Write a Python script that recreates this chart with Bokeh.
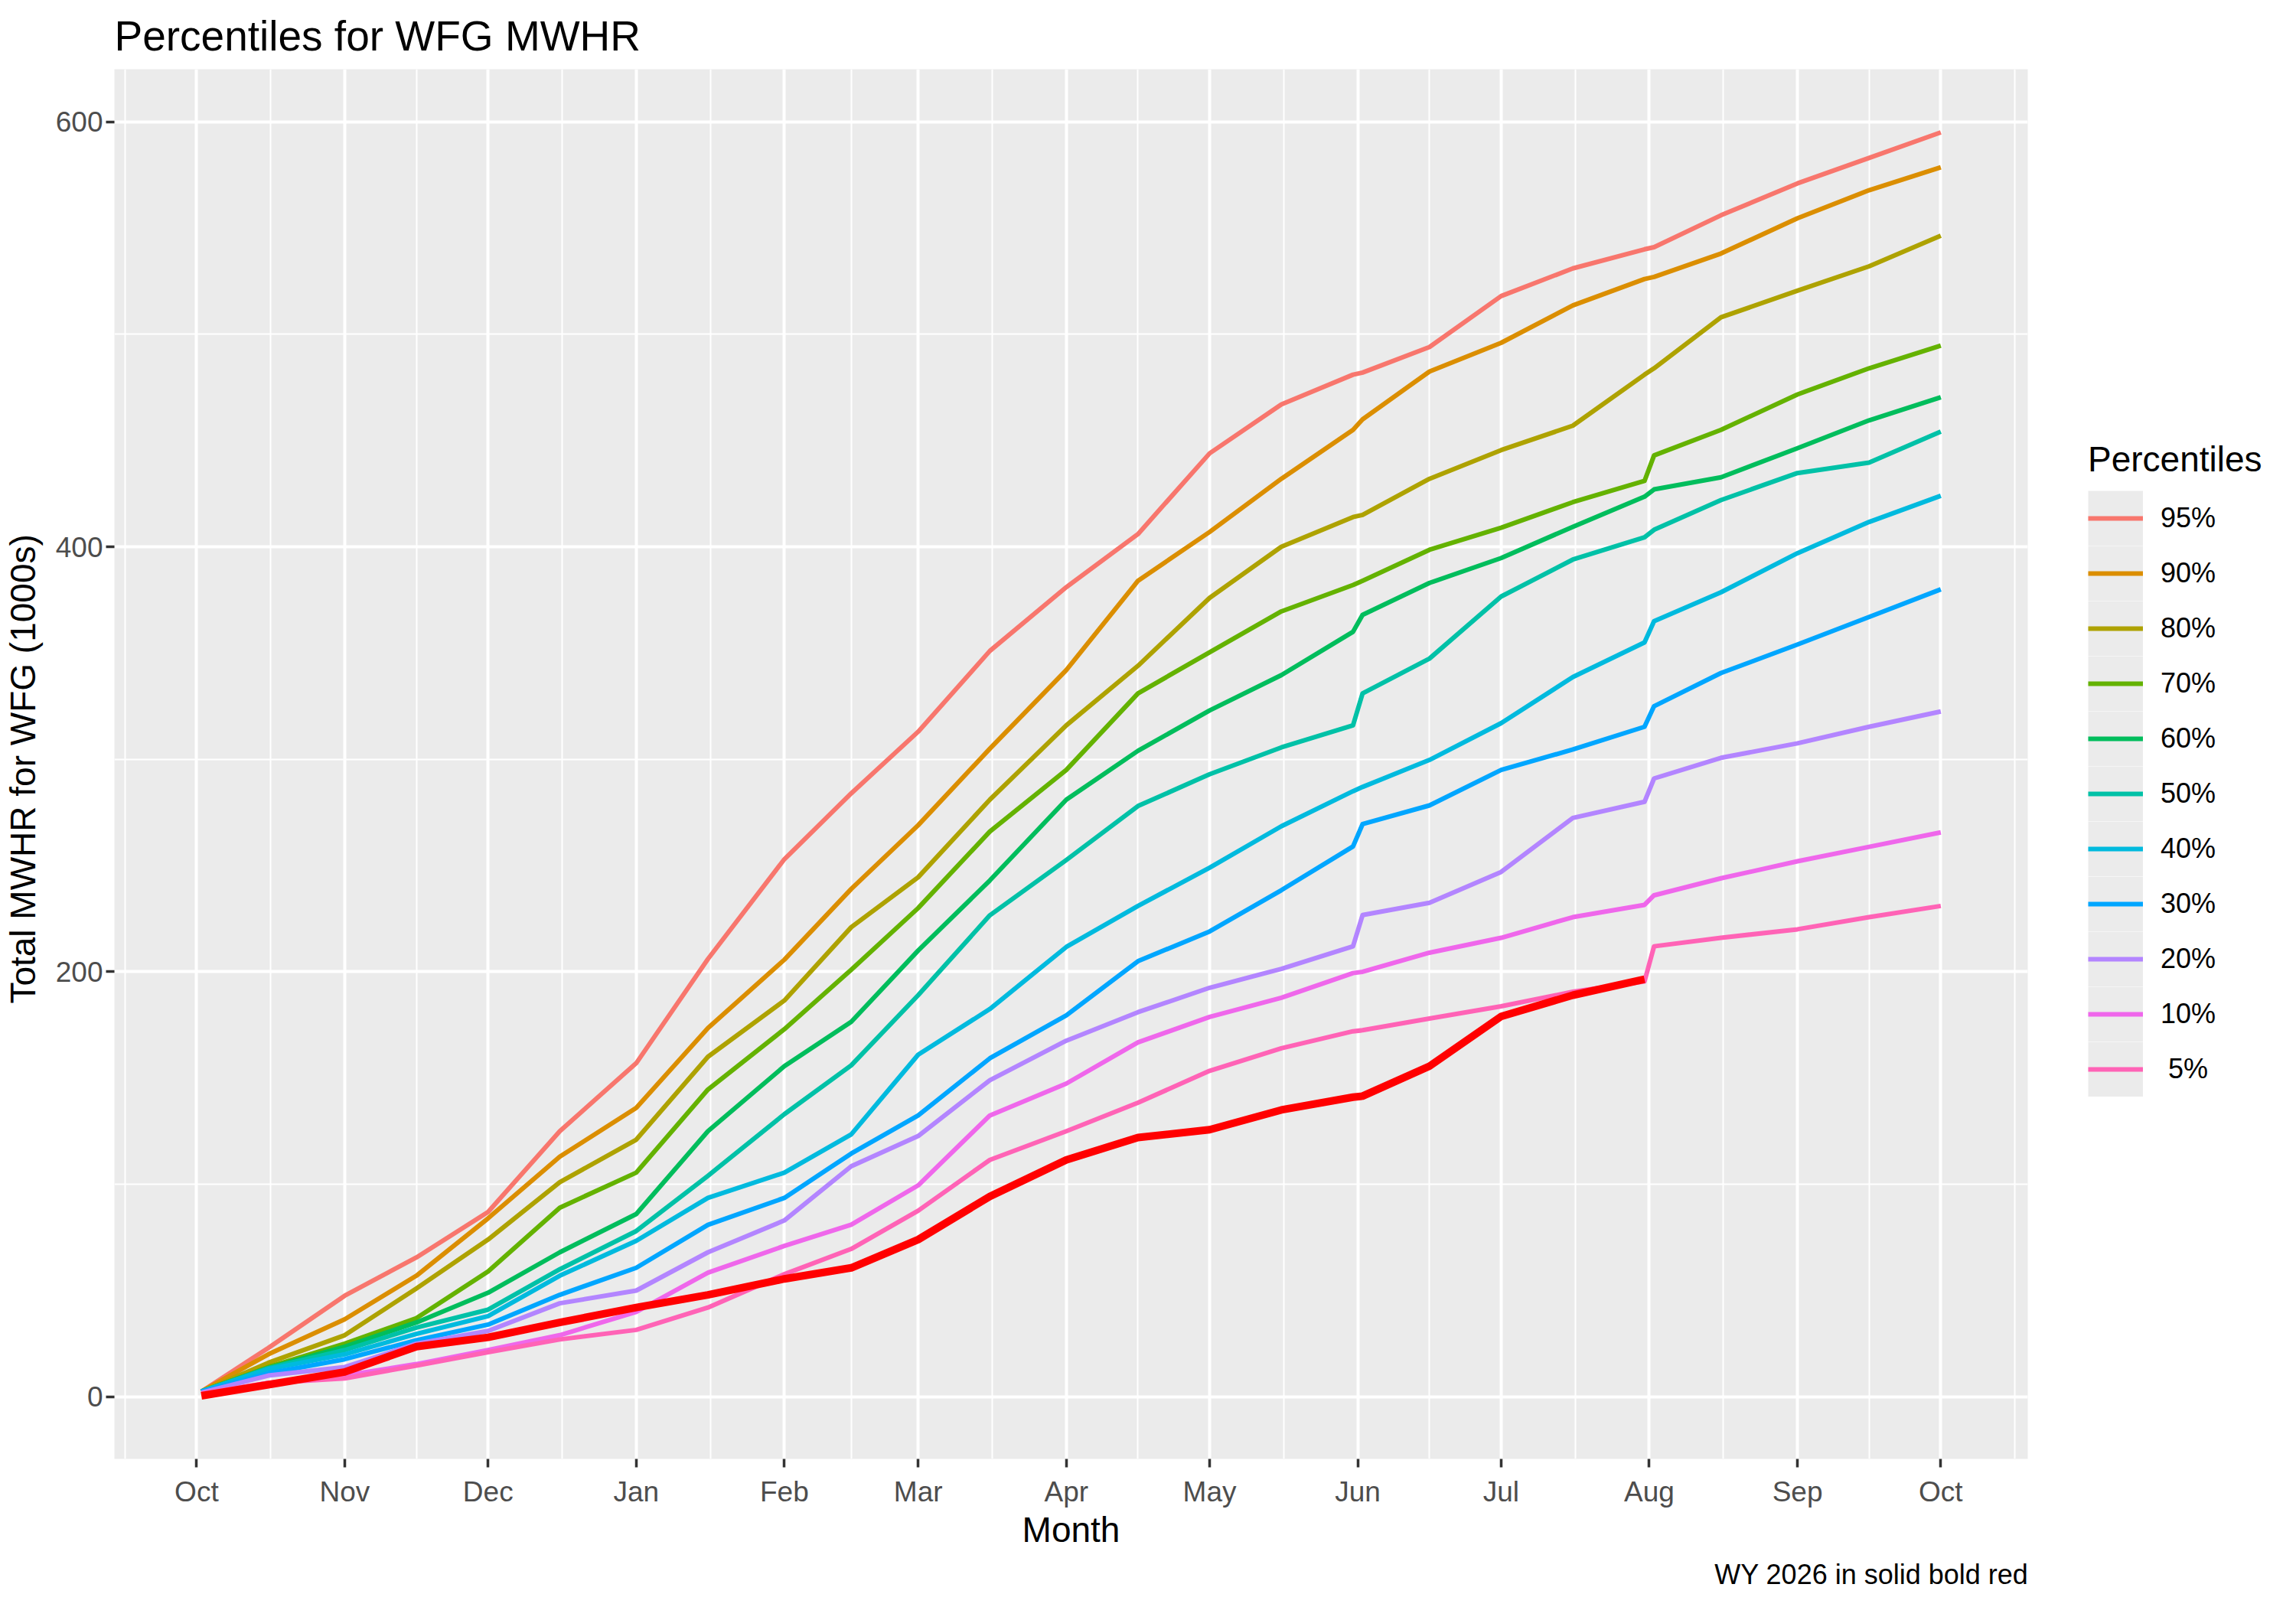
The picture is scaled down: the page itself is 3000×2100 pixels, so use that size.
import pandas as pd
from bokeh.plotting import figure
from bokeh.layouts import row
from bokeh.models import (Range1d, FixedTicker, DatetimeTickFormatter, Legend,
                          LegendItem, Title)
from bokeh.embed import file_html
from bokeh.resources import INLINE

FONT = "Liberation Sans"

# ---------------- data ----------------
dates = ["2025-10-02", "2025-10-16", "2025-11-01", "2025-11-16", "2025-12-01",
         "2025-12-16", "2026-01-01", "2026-01-16", "2026-02-01", "2026-02-15",
         "2026-03-01", "2026-03-16", "2026-04-01", "2026-04-16", "2026-05-01",
         "2026-05-16", "2026-05-31", "2026-06-02", "2026-06-16", "2026-07-01",
         "2026-07-16", "2026-07-31", "2026-08-02", "2026-08-16", "2026-09-01",
         "2026-09-16", "2026-10-01"]

p95 = [2.5, 23, 47.6, 65.6, 87, 125, 157, 206, 253, 284, 313, 351, 381, 406,
       444, 467, 481, 482, 494, 518, 531, 540, 541, 556, 571, 583, 595]
p90 = [2.5, 20, 36.5, 57, 84, 113, 136, 173.5, 205.7, 239, 269, 305, 342, 384,
       407, 432, 455, 460, 482.5, 496, 513.6, 526, 527, 538, 554.6, 567.8, 578.6]
p80 = [2.5, 16, 29, 51, 74, 101, 121, 160, 186.5, 221, 244.5, 281, 316, 344,
       376, 400, 414, 415, 432, 445.5, 457, 481, 484, 508, 520.5, 532, 546.4]
p70 = [2.5, 14, 25, 37, 59, 89, 105.5, 144.6, 173, 201, 230, 266, 295, 331,
       350.4, 369.6, 382, 384, 398.6, 409, 421, 431, 443, 455, 471.7, 484, 494.7]
p60 = [2.5, 13.5, 23.6, 35, 49, 68, 86, 125, 155.6, 176.5, 210, 243, 281, 304,
       323, 339.6, 360, 368, 383, 394.7, 409.4, 423.6, 427, 432.7, 446.4, 459.5, 470.4]
p50 = [2.5, 13.5, 22, 32.6, 41, 60, 78, 104, 133, 156, 189, 226.6, 252.6, 278,
       293, 305.6, 316, 331, 347.4, 376.6, 394, 404.5, 408, 422, 434.7, 439.6, 454.2]
p40 = [2.5, 13, 20, 29.6, 38, 57, 73.4, 93.6, 105.5, 123.5, 161, 182.5, 211.7,
       231, 249, 268.5, 285, 287, 299.7, 317, 338.7, 355, 365, 378.6, 397, 411.7, 424]
p30 = [2.5, 11, 17.7, 26.6, 34, 48, 60.7, 80.9, 93.6, 114.5, 132.4, 159.3, 179.5,
       205, 219, 238.4, 259, 269.5, 278.3, 295, 304.6, 315.3, 325, 340.6, 354, 367, 380]
p20 = [2, 10, 14, 25, 31, 44, 50, 68, 83, 108.5, 122.7, 149, 167.6, 181, 192.5,
       201.4, 212, 226.7, 232.5, 247, 272.4, 280, 291, 300.7, 307.5, 315.3, 322.5]
p10 = [1.5, 6.5, 10, 15.4, 22, 29, 40, 58.4, 71, 81, 99.5, 132.4, 147.4, 166.8,
       178.8, 187.8, 199.4, 200, 209, 216, 225.7, 231.5, 236, 244, 252, 258.8, 265.6]
p05 = [1.5, 6.5, 8.7, 14.7, 21, 27, 31.5, 42, 57.7, 69.6, 87.6, 111.5, 125, 138.4,
       153.4, 164, 172, 172.5, 178, 183.8, 190.6, 195.5, 212, 216, 220, 225.7, 231]
# current water year (ends at the start of August)
wy2026 = [0.5, 5.7, 11.7, 23.6, 28, 35, 42, 48, 55.5, 60.7, 74, 94.3, 111.5, 122,
          125.7, 135, 141, 141.5, 155.6, 179, 189, 196.5]

labels = ["95%", "90%", "80%", "70%", "60%", "50%", "40%", "30%", "20%", "10%", " 5%"]
values = [p95, p90, p80, p70, p60, p50, p40, p30, p20, p10, p05]
colors = ["#F8766D", "#DB8E00", "#AEA200", "#64B200", "#00BD5C", "#00C1A7",
          "#00BADE", "#00A6FF", "#B385FF", "#EF67EB", "#FF63B6"]

month_ticks = ["2025-09-01", "2025-10-01", "2025-11-01", "2025-12-01", "2026-01-01",
               "2026-02-01", "2026-03-01", "2026-04-01", "2026-05-01", "2026-06-01",
               "2026-07-01", "2026-08-01", "2026-09-01", "2026-10-01", "2026-11-01"]
y_ticks = [0, 200, 400, 600]

# ---------------- scales ----------------
x = pd.to_datetime(dates)
x_wy = x[:len(wy2026)]


def ms(t):
    return pd.Timestamp(t).value / 1e6


xmin, xmax = ms(x.min()), ms(x.max())
xpad = 0.05 * (xmax - xmin)
all_vals = [v for s in values for v in s] + wy2026
ymin, ymax = min(all_vals), max(all_vals)
ypad = 0.05 * (ymax - ymin)

tick_ms = [ms(t) for t in month_ticks]
major_x = tick_ms[1:-1]
minor_x = [(a + b) / 2 for a, b in zip(tick_ms[:-1], tick_ms[1:])]
ystep = y_ticks[1] - y_ticks[0]
minor_y = [t + ystep / 2 for t in y_ticks[:-1]]

# ---------------- layout sizes ----------------
FRAME_W, FRAME_H = 2500, 1818
B_LEFT, B_RIGHT, B_TOP, B_BOTTOM = 149, 63, 88, 178
TOTAL_W = 2984
MAIN_W = B_LEFT + FRAME_W + B_RIGHT
MAIN_H = B_TOP + FRAME_H + B_BOTTOM
LEG_W = TOTAL_W - MAIN_W

p = figure(x_axis_type="datetime", width=MAIN_W, height=MAIN_H,
           min_border_left=B_LEFT, min_border_right=B_RIGHT,
           min_border_top=B_TOP, min_border_bottom=B_BOTTOM,
           x_range=Range1d(xmin - xpad, xmax + xpad),
           y_range=Range1d(ymin - ypad, ymax + ypad),
           output_backend="svg", toolbar_location=None,
           background_fill_color="#EBEBEB", border_fill_color="white",
           outline_line_color=None)

# title
p.title.text = "Percentiles for WFG MWHR"
p.title.text_font = FONT
p.title.text_font_size = "55px"
p.title.text_font_style = "normal"
p.title.text_color = "black"
p.title.align = "left"
p.title.standoff = 26

# axes
p.xaxis.ticker = FixedTicker(ticks=major_x, minor_ticks=minor_x)
p.yaxis.ticker = FixedTicker(ticks=y_ticks, minor_ticks=minor_y)
p.xaxis.formatter = DatetimeTickFormatter(days="%b", months="%b", years="%b")
for ax in (p.xaxis, p.yaxis):
    ax.axis_line_color = None
    ax.major_tick_line_color = "#333333"
    ax.major_tick_line_width = 3.5
    ax.major_tick_in = 0
    ax.major_tick_out = 11
    ax.minor_tick_line_color = None
    ax.major_label_text_font = FONT
    ax.major_label_text_font_size = "37px"
    ax.major_label_text_color = "#4D4D4D"
    ax.axis_label_text_font = FONT
    ax.axis_label_text_font_size = "46px"
    ax.axis_label_text_font_style = "normal"
    ax.axis_label_text_color = "black"
p.xaxis.axis_label = "Month"
p.yaxis.axis_label = "Total MWHR for WFG  (1000s)"
p.xaxis.major_label_standoff = 11
p.xaxis.axis_label_standoff = 0
p.yaxis.major_label_standoff = 4
p.yaxis.axis_label_standoff = 14

for g in (p.xgrid, p.ygrid):
    g.grid_line_color = "white"
    g.grid_line_width = 4
    g.minor_grid_line_color = "white"
    g.minor_grid_line_width = 2

for vals, col in zip(values, colors):
    p.line(x, vals, line_color=col, line_width=6, line_join="round")

p.line(x_wy, wy2026, line_color="#FF0000", line_width=10, line_join="round")

caption = Title(text="WY 2026 in solid  bold red", align="right",
                text_font=FONT, text_font_size="36px", offset=-11,
                text_font_style="normal", text_color="black", standoff=14)
p.add_layout(caption, "below")

# ---------------- legend (own small canvas to the right) ----------------
leg = figure(width=LEG_W, height=MAIN_H, min_border=0, output_backend="svg",
             toolbar_location=None, x_axis_location=None, y_axis_location=None,
             outline_line_color=None, background_fill_color="white",
             border_fill_color="white")
leg.grid.grid_line_color = None

KEY = 72
# one-point lines draw nothing on the canvas; they only give the legend glyphs
key_bg = leg.line(x[:1], p05[:1], line_color="#EBEBEB", line_width=KEY,
                  line_cap="butt")
items = []
for lab, vals, col in zip(labels, values, colors):
    r = leg.line(x[:1], vals[:1], line_color=col, line_width=6)
    items.append(LegendItem(label=lab, renderers=[key_bg, r]))

legend = Legend(items=items, title="Percentiles",
                location=(16, 473),
                orientation="vertical", glyph_width=KEY, glyph_height=KEY,
                spacing=0, label_standoff=23, padding=0, margin=0,
                title_standoff=14, background_fill_alpha=0,
                border_line_color=None, label_text_font=FONT,
                label_text_font_size="36px", label_text_color="black",
                title_text_font=FONT, title_text_font_size="46px",
                title_text_font_style="normal", title_text_color="black")
leg.add_layout(legend, "center")

open("out.html", "w").write(file_html(row(p, leg), INLINE))
